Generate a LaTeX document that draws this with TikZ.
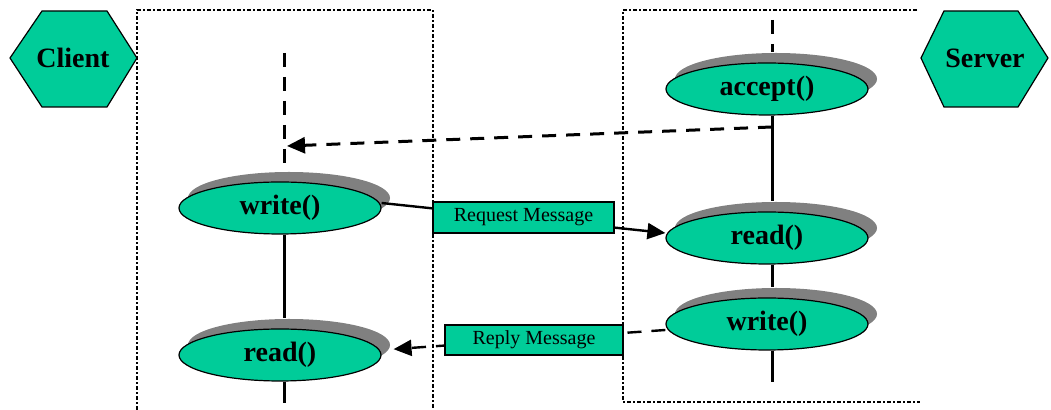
\documentclass[tikz,border=0pt]{standalone}
\usepackage{fontspec}
\setmainfont{Liberation Serif}
\usetikzlibrary{shapes.geometric,shadows,arrows.meta}
\definecolor{tealgreen}{RGB}{0,204,153}
\definecolor{shadegray}{RGB}{128,128,128}
\begin{document}
\begin{tikzpicture}[x=0.5pt,y=-0.5pt,
  call/.style={ellipse, draw=black, line width=0.6pt, fill=tealgreen,
    minimum width=101pt, minimum height=26pt, inner sep=0pt,
    font=\bfseries\fontsize{14}{16}\selectfont,
    drop shadow={shadow xshift=4.5pt, shadow yshift=5pt, fill=shadegray, opacity=1}},
  hexa/.style={draw=black, line width=0.6pt, fill=tealgreen},
  actor/.style={font=\bfseries\fontsize{14}{16}\selectfont, inner sep=0pt},
  msg/.style={rectangle, draw=black, line width=0.6pt, fill=tealgreen,
    font=\fontsize{10}{12}\selectfont, inner sep=0pt},
  life/.style={line width=1.5pt},
  lifedash/.style={line width=1.5pt, dash pattern=on 7pt off 5pt},
  frame/.style={line width=0.6pt, dash pattern=on 2pt off 1.2pt on 0.6pt off 1.2pt},
  tip/.style={-{Triangle[length=9pt,width=8pt]}}]

\useasboundingbox (0,0) rectangle (1051,410);
\fill[white] (0,0) rectangle (1051,410);

% process frames
\draw[frame] (137,410) -- (137,10) -- (433,10) -- (433,410);
\draw[frame] (917,10) -- (623,10) -- (623,402) -- (920,402);

% actors
\path[hexa] (10,58) -- (42,11) -- (107,11) -- (137,58) -- (107,107) -- (42,107) -- cycle;
\node[actor] (client) at (73,58) {Client};
\path[hexa] (921,58) -- (944,11) -- (1018,11) -- (1048,58) -- (1018,107) -- (944,107) -- cycle;
\node[actor] (server) at (985,58) {Server};

% calls
\node[call] (cw) at (280,208) {write()};
\node[call] (cr) at (280,355) {read()};
\node[call] (sa) at (767,89) {accept()};
\node[call] (sr) at (767,238) {read()};
\node[call] (sw) at (767,324) {write()};

% lifeline ends
\coordinate (ctop) at (284,53);
\coordinate (cbot) at (284,403);
\coordinate (stop) at (772,20);
\coordinate (sbot) at (772,382);
\coordinate (acc) at (772,127);
\coordinate (cin) at (287,146);

% client lifeline
\draw[lifedash] (ctop) -- ([yshift=5pt]cw.north -| ctop);
\draw[life] (cw.south -| ctop) -- ([yshift=5pt]cr.north -| ctop);
\draw[life] (cr.south -| ctop) -- (cbot);

% server lifeline
\draw[lifedash] (stop) -- ([yshift=5pt]sa.north -| stop);
\draw[life] (sa.south -| stop) -- ([yshift=5pt]sr.north -| stop);
\draw[life] (sr.south -| stop) -- ([yshift=5pt]sw.north -| stop);
\draw[life] (sw.south -| stop) -- (sbot);

% connection established
\draw[lifedash, tip] (acc) -- (cin);

% messages
\draw[line width=1.2pt, tip] ([yshift=2.5pt]cw.east) -- ([yshift=2.5pt]sr.west);
\draw[lifedash, line width=1.2pt, tip, shorten >=6pt] ([yshift=-3pt]sw.west) -- ([yshift=2.5pt]cr.east);

\node[msg, minimum width=90.5pt, minimum height=15.5pt] (req) at (523.5,217.5) {Request Message};
\node[msg, minimum width=89pt, minimum height=15pt] (rep) at (534,340) {Reply Message};

\end{tikzpicture}
\end{document}
